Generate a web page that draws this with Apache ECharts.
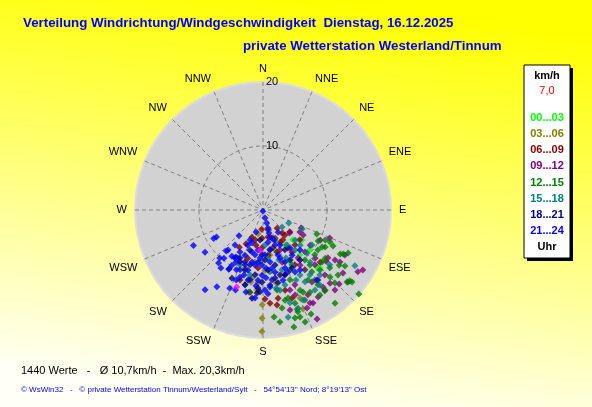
<!DOCTYPE html>
<html lang="de" style="height: 100%">
<head>
    <meta charset="utf-8"/>
    <meta name="viewport" content="width=device-width, initial-scale=1.0"/>
</head>
<body style="height: 100%; margin: 0; overflow: hidden">
<div id="container" style="height: 100%"></div>

<script type="text/javascript" src="https://cdn.jsdelivr.net/npm/echarts@6/dist/echarts.min.js"></script>

<script type="text/javascript">
    // Himmelsrichtungen (16er Rose, ab Nord im Uhrzeigersinn)
    var richtungen = ["N", "NNE", "NE", "ENE", "E", "ESE", "SE", "SSE",
        "S", "SSW", "SW", "WSW", "W", "WNW", "NW", "NNW"];
    var radiusTicks = [0, 10, 20];

    // Zeitabschnitte (Legende)
    var zeitraeume = ["00...03", "03...06", "06...09", "09...12", "12...15", "15...18", "18...21", "21...24"];
    var farben = ["#00ff00", "#808000", "#800000", "#800080", "#008000", "#008080", "#000080", "#0000ff"];

    // Messwerte je Zeitabschnitt: [Geschwindigkeit km/h, Richtung Grad]
    var s0003 = [[7.7, 127.6], [12.3, 136.6], [12.7, 135.5], [6.6, 135], [6.5, 147.8], [9.1, 140.6],
        [9.6, 130.4], [9.2, 152.6], [6.5, 163.3], [11.4, 145]];
    var s0306 = [[14.8, 180.5], [16.9, 180.5], [19.0, 180.5], [3.8, 191.8], [10.8, 189.2], [14.9, 157.2],
        [16.7, 158], [11.4, 183.9], [11.4, 189.5], [12.5, 184.3], [8.2, 188.7], [9.4, 178.1], [9.5, 197.2],
        [11.4, 170.5], [7.1, 171.2]];
    var s0609 = [[3.0, 183.9], [6.9, 212.4], [5.9, 206.6], [3.6, 142.1], [4.7, 140.4], [4.6, 162.2],
        [7.1, 173.7], [6.1, 165.3], [5.6, 146.3], [6.9, 161.6], [7.1, 146.7], [13.9, 178.7], [14.6, 175.7],
        [15.0, 171.6], [14.0, 170.3], [13.0, 189], [4.3, 169.5], [12.1, 132.4], [14.5, 161.8], [4.8, 194.9],
        [7.4, 129.1], [9.1, 184.9], [7.9, 197.4], [13.0, 164.6], [11.5, 198.2], [9.9, 149.8], [5.9, 181.5],
        [5.4, 129.2], [4.6, 202.2], [4.4, 182], [5.2, 138.7], [7.4, 137.6], [4.8, 156.8], [5.6, 191.3],
        [5.7, 152], [3.2, 166], [8.0, 145.4]];
    var s0912 = [[18.2, 121], [17.7, 123.1], [17.4, 130.3], [15.9, 128.2], [16.6, 134.2], [16.8, 138],
        [15.5, 137.5], [15.9, 142.6], [15.3, 142.1], [16.1, 147.7], [19.0, 153.6], [16.3, 153.2], [15.0, 152.1],
        [16.2, 164.9], [7.4, 122], [6.7, 120.7], [6.6, 115.3], [11.3, 112.7], [5.5, 130.4], [12.6, 126.4],
        [13.7, 124.8], [12.7, 129], [13.9, 141.8], [16.5, 151.7], [10.1, 117.8], [9.2, 126.7], [10.4, 146.1],
        [10.7, 161.3], [12.7, 156.9], [11.8, 136.6], [16.8, 155.8], [6.8, 157], [14.6, 118.8], [11.4, 145],
        [13.6, 145.8], [9.3, 143.9], [13.2, 161.4], [14.0, 136.4], [11.1, 132.7], [9.3, 135], [14.2, 159.4],
        [8.7, 159.9], [14.5, 124]];
    var s1215 = [[9.2, 114], [9.9, 119.4], [10.8, 115.8], [11.3, 120.8], [12.3, 117.2], [13.9, 119.7],
        [14.3, 118.8], [14.9, 116.8], [10.9, 122.1], [11.6, 115.5], [14.7, 125.9], [15.5, 124.3], [17.5, 129.2],
        [17.3, 130.6], [19.9, 131.2], [17.9, 129], [18.4, 142.3], [17.9, 155.2], [18.9, 165.2], [17.7, 171.4],
        [16.8, 174.1], [17.7, 160.9], [16.0, 146.2], [18.7, 159.4], [17.6, 163.5], [16.8, 161.1], [15.6, 169],
        [16.4, 161], [13.0, 147.3], [14.3, 154], [15.4, 161], [13.0, 189.7], [16.0, 135.4], [14.8, 135],
        [12.9, 136.5], [10.2, 140], [10.3, 155.8], [11.3, 139.5], [12.3, 127.7], [10.7, 130.9], [14.5, 143.7],
        [14.3, 164.1], [12.7, 170.1], [12.3, 141.7], [12.3, 131.4], [13.8, 155.2], [11.7, 158.9], [13.8, 130.9],
        [10.6, 126], [13.6, 143.4], [15.8, 142.2], [15.5, 155], [15.5, 130.9], [14.8, 150.2], [14.5, 166.3]];
    var s1518 = [[4.5, 116.6], [6.8, 116], [4.0, 131.8], [16.8, 121.3], [17.2, 166.8], [15.4, 156],
        [15.1, 163.8], [12.8, 168], [9.6, 134.3], [9.4, 125.5], [8.2, 162.3], [9.7, 173.6], [8.0, 141.3],
        [11.0, 137.9], [12.2, 163.7], [11.7, 150.4], [8.1, 183.3], [10.4, 191.3], [13.5, 138.8], [6.6, 145.6],
        [5.5, 176.7], [9.3, 202.7], [16.3, 160.3], [12.0, 193.5], [5.0, 158.2], [13.5, 129.4], [9.7, 152.2],
        [13.0, 149.7], [14.9, 147], [9.8, 162.4], [7.5, 174.1], [6.9, 133.2], [12.1, 154.8], [12.5, 144.1],
        [8.3, 154.4], [12.4, 170.5], [14.7, 142.8], [8.0, 133.4]];
    var s1821 = [[10.6, 209.9], [13.9, 187.1], [13.0, 184.1], [9.8, 196.7], [8.7, 210.3], [8.6, 199.1],
        [10.2, 187], [11.3, 180.8], [11.8, 174.7], [7.8, 177.7], [6.6, 198], [10.5, 165.3], [8.8, 167.7],
        [8.9, 151.6], [4.7, 185.7], [12.0, 193.5], [11.7, 204.5], [7.1, 151.2], [9.7, 143.5], [8.3, 205.6],
        [6.3, 170], [12.2, 183.7], [9.4, 175.2], [11.6, 168.4], [8.8, 193.3], [10.7, 161.3], [12.8, 182.1],
        [11.2, 192.1], [7.0, 181.3], [10.8, 170], [8.9, 203.9], [10.1, 153.4]];
    var s2124 = [[0.2, 185], [1.3, 166], [2.1, 164], [2.9, 164.5], [3.7, 165.4], [4.4, 165.5], [12.2, 243],
        [11.2, 234], [8.9, 240], [8.4, 240], [8.6, 222], [8.3, 221], [10.1, 222], [10.8, 220], [9.7, 219],
        [15.4, 216], [14.0, 211], [13.3, 203], [13.2, 199], [11.7, 201], [11.1, 199], [10.2, 204], [10.7, 210],
        [5.5, 223], [11.2, 216], [8.7, 214], [8.5, 210], [5.1, 203.4], [6.3, 187.1], [7.0, 177.5], [8.2, 172.3],
        [8.0, 160.5], [5.8, 161.1], [8.7, 188.3], [7.6, 201.8], [10.2, 180.9], [11.0, 172.7], [9.7, 159.2],
        [11.1, 190.5], [7.5, 208.7], [5.1, 171.1], [4.2, 145.7], [10.9, 152.7], [7.5, 183.6], [11.4, 164.1],
        [7.3, 144.6], [9.7, 194], [9.2, 207.4], [3.6, 197.6], [9.1, 177], [13.8, 185.2], [12.1, 174.8],
        [5.4, 198.4], [13.8, 142.4], [9.0, 198.1], [8.3, 191.9], [11.0, 184.1], [12.5, 178.6], [9.9, 169],
        [8.8, 157.1], [8.4, 147.2], [11.0, 148.3], [8.6, 181], [6.3, 170.1], [6.1, 154.1], [7.1, 190.1],
        [6.0, 203.2], [10.0, 201], [7.0, 218.7], [8.5, 207.5], [10.6, 196.3], [6.8, 194.7], [8.2, 185.5],
        [10.6, 177.5], [9.2, 171.2], [7.4, 161.6], [10.4, 158], [11.9, 185.3], [13.1, 191.7], [13.1, 176.6],
        [9.9, 209.4], [8.5, 137.2], [5.0, 159.9]];
    // einzelne magentafarbene Punkte
    var sExtra = [[12.7, 198.9], [6.3, 184.3]];

    var reihen = [s0003, s0306, s0609, s0912, s1215, s1518, s1821, s2124];

    var dom = document.getElementById("container");
    var myChart = echarts.init(dom, null, {renderer: "canvas"});

    var series = reihen.map(function (d, i) {
        return {
            name: zeitraeume[i],
            type: "scatter",
            coordinateSystem: "polar",
            symbol: "diamond",
            symbolSize: 7,
            itemStyle: {color: farben[i]},
            data: d
        };
    });
    series.push({
        type: "scatter", coordinateSystem: "polar", symbol: "diamond", symbolSize: 7,
        itemStyle: {color: "#ff00ff"}, data: sExtra
    });

    var mitte = [263, 210], rad = 128;

    // grauer Kreis als Hintergrund der Windrose + Legendenkasten rechts
    var grafik = [
        {type: "circle", z: -1, shape: {cx: mitte[0], cy: mitte[1], r: rad + 1}, style: {fill: "#dcdcdc"}},
        {type: "circle", z: -1, shape: {cx: mitte[0], cy: mitte[1], r: rad - 1}, style: {fill: "#d2d2d2"}},
        {type: "rect", shape: {x: 527, y: 68, width: 46, height: 193}, style: {fill: "#000"}},
        {type: "rect", shape: {x: 524, y: 65, width: 46, height: 193}, style: {fill: "#fff", stroke: "#000", lineWidth: 1}},
        {type: "text", x: 547, y: 76, style: {text: "km/h", fill: "#000", font: "bold 11px Arial", textAlign: "center", textVerticalAlign: "middle"}},
        {type: "text", x: 547, y: 91, style: {text: "7,0", fill: "#ff0000", font: "11px Arial", textAlign: "center", textVerticalAlign: "middle"}},
        {type: "text", x: 547, y: 247, style: {text: "Uhr", fill: "#000", font: "bold 11px Arial", textAlign: "center", textVerticalAlign: "middle"}}
    ];
    zeitraeume.forEach(function (z, i) {
        grafik.push({
            type: "text", x: 547, y: 118 + i * 16.15,
            style: {text: z, fill: farben[i], font: "bold 11px Arial", textAlign: "center", textVerticalAlign: "middle"}
        });
    });

    var option = {
        backgroundColor: {
            type: "linear", x: 0.55, y: 0, x2: 0.45, y2: 1,
            colorStops: [{offset: 0, color: "#ffff00"}, {offset: 1, color: "#fffff6"}]
        },
        animation: false,
        title: [
            {
                text: "Verteilung Windrichtung/Windgeschwindigkeit  Dienstag, 16.12.2025",
                left: 23, top: 17, padding: 0,
                textStyle: {color: "#0000ff", fontSize: 13.3, fontWeight: "bold", fontFamily: "Arial"}
            },
            {
                text: "private Wetterstation Westerland/Tinnum",
                left: 243, top: 40, padding: 0,
                textStyle: {color: "#0000ff", fontSize: 13.3, fontWeight: "bold", fontFamily: "Arial"}
            },
            {
                text: "1440 Werte   -   Ø 10,7km/h  -  Max. 20,3km/h",
                left: 21, top: 365, padding: 0,
                textStyle: {color: "#000", fontSize: 11, fontWeight: "normal", fontFamily: "Arial"}
            },
            {
                text: "© WsWin32   -   © private Wetterstation Tinnum/Westerland/Sylt   -   54°54'13'' Nord; 8°19'13'' Ost",
                left: 21, top: 386, padding: 0,
                textStyle: {color: "#0000ff", fontSize: 8, fontWeight: "normal", fontFamily: "Arial"}
            }
        ],
        polar: {center: mitte, radius: rad},
        angleAxis: {
            type: "value", min: 0, max: 360, interval: 22.5,
            startAngle: 90, clockwise: true,
            axisLine: {show: false},
            axisTick: {show: false},
            axisLabel: {
                margin: 8, color: "#000", fontSize: 11, fontFamily: "Arial",
                formatter: function (v) {
                    return v >= 360 ? "" : richtungen[Math.round(v / 22.5) % 16];
                }
            },
            splitLine: {show: true, lineStyle: {color: "#7f7f7f", type: [4, 3], width: 1}}
        },
        radiusAxis: {
            type: "value", min: radiusTicks[0], max: radiusTicks[2], interval: radiusTicks[1],
            axisLine: {show: false},
            axisTick: {show: false},
            axisLabel: {
                color: "#000", fontSize: 11, fontFamily: "Arial", margin: -3, align: "left",
                formatter: function (v) { return v === 0 ? "" : String(v); }
            },
            splitLine: {show: true, lineStyle: {color: ["rgba(0,0,0,0)", "#7f7f7f", "rgba(0,0,0,0)"], type: [4, 3], width: 1}}
        },
        graphic: grafik,
        series: series
    };

    myChart.setOption(option);
    window.addEventListener("resize", myChart.resize);
</script>
</body>
</html>
